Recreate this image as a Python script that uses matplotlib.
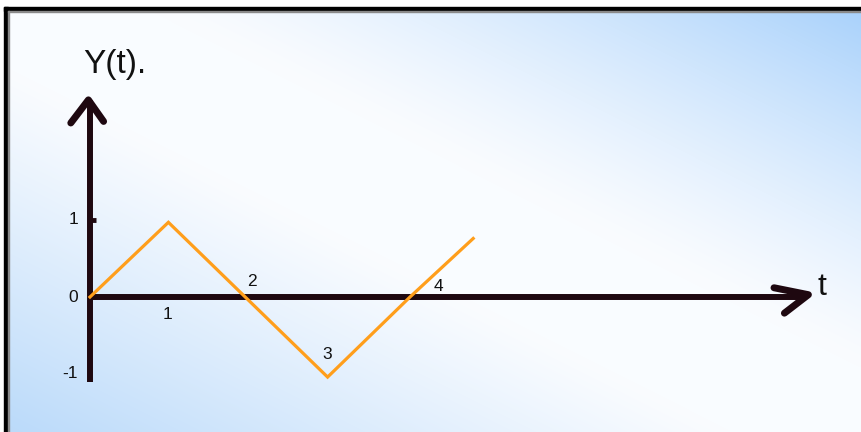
import matplotlib
matplotlib.use("Agg")
import matplotlib.pyplot as plt
import numpy as np
from matplotlib.patches import Rectangle

# data
t_vals = [0.0, 0.98, 1.94, 2.97, 4.0, 4.79]
y_vals = [0.0, 0.97, 0.0, -1.04, 0.0, 0.76]

x_tick_pos = [1, 2, 3, 4]
x_tick_labels = ["1", "2", "3", "4"]
y_tick_pos = [1, 0, -1]
y_tick_labels = ["1", "0", "-1"]

W, H = 861, 432
AXIS = "#1e0810"
ORANGE = "#ff9e1b"

# pixel layout of the drawing (origin at px 90, 297; 80 px per t, 77 px per y)
X0, Y0, SX, SY = 90, 297, 80.0, 77.0
xlim = (-X0 / SX, (W - X0) / SX)
ylim = ((Y0 - H) / SY, Y0 / SY)

fig = plt.figure(figsize=(W / 100, H / 100), dpi=100)
ax = fig.add_axes([0, 0, 1, 1])
ax.set_axis_off()

# background: white diagonal band, light blue to top-right and bottom-left
px, py = np.meshgrid(np.arange(W), np.arange(H))
d = px / W - py / H
white = np.array([250, 252, 255]) / 255
blue_tr = np.array([166, 208, 251]) / 255
blue_bl = np.array([188, 219, 250]) / 255
a_tr = np.clip((d - 0.15) / 0.85, 0, 1) ** 1.3
a_bl = np.clip((-d - 0.15) / 0.82, 0, 1) ** 1.1
img = white * (1 - a_tr[..., None] - a_bl[..., None]) \
    + blue_tr * a_tr[..., None] + blue_bl * a_bl[..., None]
img[(py < 8) | (px < 5)] = 1.0
ax.imshow(img, extent=(xlim[0], xlim[1], ylim[0], ylim[1]),
          aspect="auto", zorder=0, interpolation="bilinear")

# frame lines (top and left)
fig.add_artist(Rectangle((4 / W, 0), 4 / W, (H - 7) / H,
                         transform=fig.transFigure, color="black"))
fig.add_artist(Rectangle((4 / W, (H - 11) / H), 1, 4 / H,
                         transform=fig.transFigure, color="black"))
fig.add_artist(Rectangle((8 / W, (H - 12) / H), 1, 1 / H,
                         transform=fig.transFigure, color="#8a8a8a"))
fig.add_artist(Rectangle((8 / W, 0), 1 / W, (H - 11) / H,
                         transform=fig.transFigure, color="#8a8a8a"))

# axes with hand-drawn arrow heads
ax.plot([0, 0], [-1.11, 2.56], color=AXIS, lw=4.3, solid_capstyle="butt", zorder=2)
ax.plot([-0.24, -0.02, 0.17], [2.26, 2.56, 2.28], color=AXIS, lw=5,
        solid_capstyle="round", solid_joinstyle="round", zorder=2)
ax.plot([0, 8.95], [0, 0], color=AXIS, lw=4.3, solid_capstyle="butt", zorder=2)
ax.plot([8.55, 8.98, 8.68], [0.12, 0.03, -0.21], color=AXIS, lw=5,
        solid_capstyle="round", solid_joinstyle="round", zorder=2)
ax.plot([0, 0.07], [1, 1], color=AXIS, lw=3.5, solid_capstyle="butt", zorder=2)

# the signal
ax.plot(t_vals, y_vals, color=ORANGE, lw=2.3, zorder=3,
        solid_joinstyle="miter")

font = "Liberation Sans"
ax.text(0.31, 2.91, "Y(t).", fontsize=24, family=font, ha="center",
        va="baseline", color="#111111")
ax.text(9.1, 0.03, "t", fontsize=23, family=font, ha="left",
        va="baseline", color="#111111")

for yp, lab in zip(y_tick_pos, y_tick_labels):
    ax.text(-0.15, yp, lab, fontsize=12.5, family=font, ha="right",
            va="center", color="#111111")

x_label_off = {1: (-0.03, -0.23), 2: (0.03, 0.2), 3: (-0.04, -0.75),
               4: (0.35, 0.13)}
for xp, lab in zip(x_tick_pos, x_tick_labels):
    dx, dy = x_label_off[xp]
    ax.text(xp + dx, dy, lab, fontsize=12.5, family=font, ha="center",
            va="center", color="#111111")

ax.set_xlim(xlim)
ax.set_ylim(ylim)
fig.savefig("out.png", dpi=100)
